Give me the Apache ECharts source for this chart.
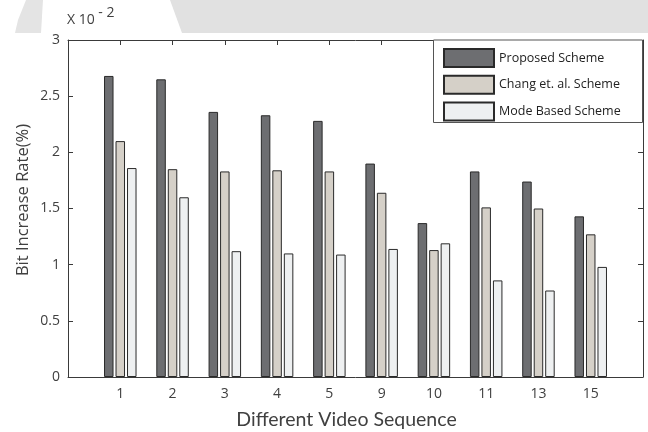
<!DOCTYPE html>
<html>
<head>
<meta charset="utf-8">
<script src="https://cdn.jsdelivr.net/npm/echarts@6/dist/echarts.min.js"></script>
<style>
  html, body { margin: 0; padding: 0; background: #fff; }
  #chart { width: 648px; height: 432px; }
</style>
</head>
<body>
<div id="chart"></div>
<script>
// Video sequence numbers along the x axis
const sequences = ['1', '2', '3', '4', '5', '9', '10', '11', '13', '15'];
// Bit increase rate, in units of 10^-2 %
const proposedScheme = [2.68, 2.65, 2.36, 2.33, 2.28, 1.90, 1.37, 1.83, 1.74, 1.43];
const changScheme    = [2.10, 1.85, 1.83, 1.84, 1.83, 1.64, 1.13, 1.51, 1.50, 1.27];
const modeBasedScheme = [1.86, 1.60, 1.12, 1.10, 1.09, 1.14, 1.19, 0.86, 0.77, 0.98];
const seriesNames = ['Proposed Scheme', 'Chang et. al. Scheme', 'Mode Based Scheme'];
const yTicks = [0, 0.5, 1, 1.5, 2, 2.5, 3];

const FONT = '"Open Sans", "Noto Sans", sans-serif';
const TITLE_FONT = 'Lato, "Open Sans", sans-serif';
const AXIS_COLOR = '#3a3a3a';
const TEXT_COLOR = '#404040';

const chart = echarts.init(document.getElementById('chart'), null, { renderer: 'canvas' });

// bars sit at positions 1..N on a numeric axis spanning 0..N+1
const toPairs = arr => arr.map((v, i) => [i + 1, v]);
const seqLabel = v => {
  const i = Math.round(v) - 1;
  return (i >= 0 && i < sequences.length) ? sequences[i] : '';
};

const barColors = ['#6d6e71', '#d5d0c8', '#eef0f1'];
const seriesData = [proposedScheme, changScheme, modeBasedScheme];

const series = seriesData.map((arr, k) => ({
  name: seriesNames[k],
  type: 'bar',
  xAxisIndex: 0,
  yAxisIndex: 0,
  barWidth: 9.5,
  barGap: '21%',
  itemStyle: { color: barColors[k], borderColor: '#2a2a2a', borderWidth: 1 },
  emphasis: { disabled: true },
  data: toPairs(arr)
}));

const option = {
  animation: false,
  backgroundColor: '#ffffff',
  textStyle: { fontFamily: FONT },
  grid: { left: 68, right: 5, top: 40, bottom: 55, containLabel: false },
  xAxis: [
    {
      type: 'value', position: 'bottom', min: 0, max: sequences.length + 1, interval: 1,
      axisLine: { show: true, onZero: false, lineStyle: { color: AXIS_COLOR, width: 1 } },
      axisTick: { show: true, inside: true, length: 5, lineStyle: { color: AXIS_COLOR } },
      axisLabel: { formatter: seqLabel, fontFamily: FONT, fontSize: 14, color: TEXT_COLOR, margin: 10 },
      splitLine: { show: false }
    },
    {
      type: 'value', position: 'top', min: 0, max: sequences.length + 1, interval: 1,
      axisLine: { show: true, onZero: false, lineStyle: { color: AXIS_COLOR, width: 1 } },
      axisTick: { show: true, inside: true, length: 5, lineStyle: { color: AXIS_COLOR } },
      axisLabel: { show: false },
      splitLine: { show: false }
    }
  ],
  yAxis: [
    {
      type: 'value', position: 'left', min: yTicks[0], max: yTicks[yTicks.length - 1], interval: 0.5,
      axisLine: { show: true, onZero: false, lineStyle: { color: AXIS_COLOR, width: 1 } },
      axisTick: { show: true, inside: true, length: 5, lineStyle: { color: AXIS_COLOR } },
      axisLabel: { fontFamily: FONT, fontSize: 14, color: TEXT_COLOR, margin: 8 },
      splitLine: { show: false }
    },
    {
      type: 'value', position: 'right', min: yTicks[0], max: yTicks[yTicks.length - 1], interval: 0.5,
      axisLine: { show: true, onZero: false, lineStyle: { color: AXIS_COLOR, width: 1 } },
      axisTick: { show: true, inside: true, length: 5, lineStyle: { color: AXIS_COLOR } },
      axisLabel: { show: false },
      splitLine: { show: false }
    }
  ],
  legend: {
    orient: 'vertical',
    left: 443, top: 48,
    padding: 0,
    z: 20,
    itemWidth: 50, itemHeight: 18, itemGap: 6.7,
    icon: 'rect',
    selectedMode: false,
    textStyle: { fontFamily: FONT, fontSize: 12.5, color: '#222' },
    data: seriesNames
  },
  graphic: [
    // shaded band across the top of the page
    {
      type: 'polygon', z: -10, silent: true,
      shape: { points: [[170, 0], [648, 0], [648, 33], [182, 33]] },
      style: { fill: '#e1e1e1' }
    },
    {
      type: 'polygon', z: -10, silent: true,
      shape: { points: [[26, 0], [43, 0], [41, 33], [15, 33], [18, 20]] },
      style: { fill: '#e4e4e4' }
    },
    // legend frame
    {
      type: 'rect', z: 5, silent: true,
      shape: { x: 433.5, y: 40, width: 209, height: 82.5 },
      style: { fill: '#ffffff', stroke: '#555555', lineWidth: 1 }
    },
    // axis titles
    {
      type: 'text', z: 60, silent: true, x: 346.5, y: 420,
      style: {
        text: 'Different Video Sequence', fontFamily: TITLE_FONT, fontSize: 19.5,
        fill: TEXT_COLOR, align: 'center', verticalAlign: 'middle'
      }
    },
    {
      type: 'text', z: 60, silent: true, x: 23, y: 200, rotation: Math.PI / 2,
      style: {
        text: 'Bit Increase Rate(%)', fontFamily: FONT, fontSize: 16.5,
        fill: TEXT_COLOR, align: 'center', verticalAlign: 'middle'
      }
    },
    // exponent of the y scale
    {
      type: 'text', z: 60, silent: true, left: 67, top: 6,
      style: {
        text: '{b|X 10 }{s|- 2}',
        rich: {
          b: { fontFamily: FONT, fontSize: 14, fill: TEXT_COLOR, padding: [8, 0, 0, 0] },
          s: { fontFamily: FONT, fontSize: 14, fill: TEXT_COLOR, padding: [0, 0, 6, 0] }
        }
      }
    }
  ],
  series: series
};

chart.setOption(option);
</script>
</body>
</html>
